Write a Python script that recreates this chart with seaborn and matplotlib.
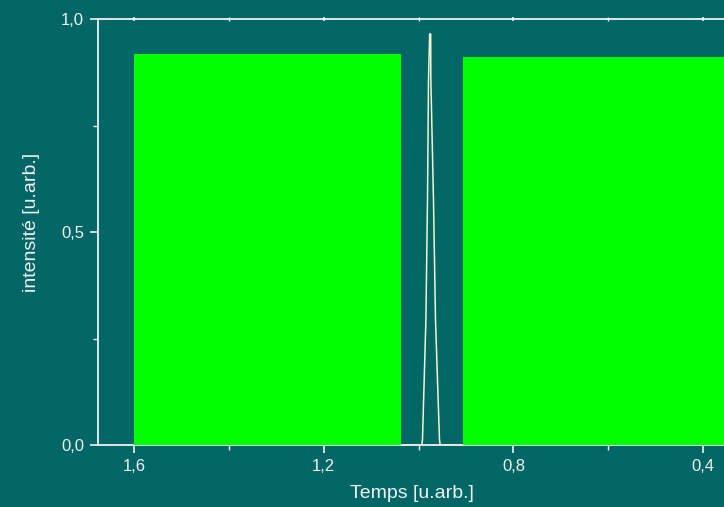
import numpy as np
import matplotlib
matplotlib.use("Agg")
import matplotlib.pyplot as plt
import matplotlib.ticker as mticker
import seaborn as sns

# ---- data ----
# two green blocks (time start / end, height, baseline)
bloc_debut = [1.600, 0.906]
bloc_fin = [1.037, 0.300]
bloc_haut = [0.918, 0.911]
bloc_base = [0.000, -0.0094]

# narrow peak (time, intensity)
pic_t = [1.030, 0.9935, 0.9918, 0.9846, 0.9812, 0.9791, 0.9766,
         0.9745, 0.9741, 0.9686, 0.9643, 0.9559, 0.9544, 0.910]
pic_i = [0.000, 0.000, 0.0117, 0.293, 0.575, 0.857, 0.965,
         0.965, 0.857, 0.575, 0.293, 0.0117, 0.000, 0.000]

x_ticks = [1.6, 1.2, 0.8, 0.4]
y_ticks = [0.0, 0.5, 1.0]

FOND = "#006666"
VERT = "#00ff00"
BLANC = "#f2f2f2"

sns.set_theme(style="ticks")
plt.rcParams.update({
    "figure.facecolor": FOND,
    "axes.facecolor": FOND,
    "axes.edgecolor": BLANC,
    "axes.labelcolor": BLANC,
    "xtick.color": BLANC,
    "ytick.color": BLANC,
    "text.color": BLANC,
})
plt.rcParams["font.family"] = ["Liberation Sans", "DejaVu Sans"]

fig = plt.figure(figsize=(7.24, 5.07), dpi=100)
ax = fig.add_axes([98 / 724, 62 / 507, 626 / 724, 426 / 507])

# green blocks
for d, f, h, b in zip(bloc_debut, bloc_fin, bloc_haut, bloc_base):
    ax.bar(min(d, f), h - b, width=abs(d - f), bottom=b, align="edge",
           color=VERT, edgecolor="none", linewidth=0, zorder=3)

# peak
sns.lineplot(x=pic_t, y=pic_i, sort=False, estimator=None,
             color="#f4f4d0", linewidth=1.1, ax=ax, zorder=4)

ax.set_xlim(1.676, 0.356)
ax.set_ylim(0.0, 1.0)
ax.set_xticks(x_ticks)
ax.set_yticks(y_ticks)
ax.xaxis.set_minor_locator(mticker.MultipleLocator(0.2))
ax.yaxis.set_minor_locator(mticker.MultipleLocator(0.25))
virgule = mticker.FuncFormatter(lambda v, _: f"{v:.1f}".replace(".", ","))
ax.xaxis.set_major_formatter(virgule)
ax.yaxis.set_major_formatter(virgule)

for s in ["left", "bottom", "top"]:
    ax.spines[s].set_linewidth(1.3)
    ax.spines[s].set_color(BLANC)
ax.spines["right"].set_visible(False)

ax.tick_params(axis="both", which="major", direction="out", length=6,
               width=1.2, labelsize=12, pad=4, colors=BLANC)
ax.tick_params(axis="both", which="minor", direction="out", length=3.5,
               width=1.0, colors=BLANC)
ax.tick_params(axis="x", which="both", top=True, labeltop=False)
for t in ax.xaxis.get_major_ticks() + ax.xaxis.get_minor_ticks():
    t.tick2line.set_markersize(2.5)
    t.tick2line.set_marker("|")

ax.set_xlabel("Temps [u.arb.]", fontsize=14)
ax.set_ylabel("intensité [u.arb.]", fontsize=14)
ax.xaxis.set_label_coords(0.502, -0.094)
ax.yaxis.set_label_coords(-0.093, 0.522)

fig.savefig("out.png", dpi=100, facecolor=FOND)
